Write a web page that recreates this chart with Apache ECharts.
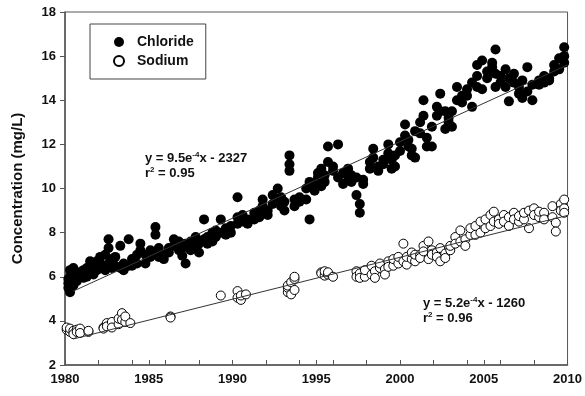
<!DOCTYPE html>
<html><head><meta charset="utf-8">
<script src="https://cdn.jsdelivr.net/npm/echarts@6/dist/echarts.min.js"></script>
<style>html,body{margin:0;padding:0;background:#fff}#c{width:585px;height:396px}</style>
</head><body><div id="c"></div>
<script>
// Chloride observations: [year, value]
const chloride = [
[1980.2,5.5],[1980.2,5.7],[1980.2,5.9],[1980.3,5.3],[1980.3,6.0],[1980.3,6.3],
[1980.5,5.6],[1980.5,6.4],[1980.5,6.1],[1980.5,5.8],[1980.7,6.0],[1980.7,5.8],
[1980.9,6.2],[1980.9,6.0],[1981.1,6.3],[1981.1,6.1],[1981.1,5.95],[1981.3,6.0],[1981.3,6.4],
[1981.5,6.2],[1981.5,6.7],[1981.7,6.1],[1981.7,6.5],[1981.9,6.3],[1981.9,6.7],
[1982.1,6.6],[1982.1,6.9],[1982.1,6.4],[1982.4,6.5],[1982.4,7.0],[1982.4,6.3],
[1982.6,7.7],[1982.6,7.3],[1982.6,6.6],[1982.8,6.4],[1982.8,6.8],[1983.0,6.5],[1983.0,6.9],
[1983.3,7.4],[1983.3,6.4],[1983.5,6.3],[1983.5,6.6],[1983.8,7.7],[1983.8,6.5],
[1984.0,6.8],[1984.0,6.5],[1984.3,7.0],[1984.3,6.6],[1984.5,7.5],[1984.5,7.2],
[1984.8,6.6],[1984.8,7.0],[1985.1,6.9],[1985.1,7.2],[1985.4,8.25],[1985.4,7.9],[1985.4,7.1],
[1985.6,7.3],[1985.6,6.9],[1985.9,7.0],[1985.9,6.8],[1986.2,7.1],[1986.2,7.3],
[1986.5,7.7],[1986.5,7.4],[1986.8,7.6],[1986.8,7.2],[1987.0,7.3],[1987.0,6.95],
[1987.2,6.6],[1987.2,7.5],[1987.5,7.6],[1987.5,7.2],[1987.8,7.8],[1987.8,7.4],
[1988.0,7.5],[1988.0,7.1],[1988.3,8.6],[1988.3,7.7],[1988.5,7.8],[1988.5,7.5],
[1988.8,8.0],[1988.8,7.6],[1989.0,8.1],[1989.0,7.8],[1989.3,8.6],[1989.3,8.0],
[1989.6,8.2],[1989.6,7.9],[1989.9,8.3],[1989.9,8.0],[1990.3,9.6],[1990.3,8.7],[1990.3,8.4],
[1990.6,8.5],[1990.6,8.8],[1990.9,8.4],[1990.9,8.6],[1991.3,8.9],[1991.3,8.6],
[1991.6,9.0],[1991.6,8.7],[1991.8,9.5],[1991.8,9.2],[1992.1,9.0],[1992.1,8.8],
[1992.4,9.7],[1992.4,9.3],[1992.7,10.0],[1992.7,9.5],[1992.9,9.2],[1992.9,9.6],
[1993.1,9.4],[1993.1,9.0],[1993.4,11.5],[1993.4,11.1],[1993.4,10.8],[1993.7,9.5],[1993.7,9.2],
[1994.0,9.4],[1994.0,9.6],[1994.4,9.5],[1994.4,10.0],[1994.6,8.6],[1994.6,10.3],
[1994.9,10.2],[1994.9,9.9],[1995.1,10.5],[1995.1,10.7],[1995.3,10.1],[1995.3,10.9],
[1995.5,10.3],[1995.5,10.6],[1995.7,11.9],[1995.7,11.2],[1996.0,11.0],[1996.0,10.8],
[1996.3,12.0],[1996.3,10.5],[1996.6,10.2],[1996.6,10.7],[1996.9,10.4],[1996.9,10.9],
[1997.1,10.6],[1997.1,10.3],[1997.4,10.5],[1997.4,9.7],[1997.6,9.3],[1997.6,8.9],
[1997.8,10.2],[1997.8,10.4],[1998.2,10.9],[1998.2,11.2],[1998.4,11.8],[1998.4,11.4],
[1998.7,11.0],[1998.7,10.8],[1999.0,11.3],[1999.0,11.1],[1999.3,11.6],[1999.3,12.0],
[1999.5,11.3],[1999.5,10.9],[1999.7,11.0],[1999.7,11.5],[2000.0,11.7],[2000.0,12.1],
[2000.3,12.9],[2000.3,12.4],[2000.5,12.2],[2000.5,11.9],[2000.7,11.5],[2000.7,11.8],
[2000.9,12.6],[2000.9,11.4],[2001.2,13.0],[2001.2,12.5],[2001.4,14.0],[2001.4,13.3],
[2001.6,11.9],[2001.6,12.3],[2001.9,11.9],[2001.9,12.8],[2002.2,13.3],[2002.2,13.7],
[2002.4,14.3],[2002.4,13.5],[2002.7,12.7],[2002.7,13.5],[2002.9,13.2],[2002.9,13.0],
[2003.1,12.8],[2003.1,13.5],[2003.4,14.6],[2003.4,14.0],[2003.7,14.2],[2003.7,13.9],
[2004.0,14.5],[2004.0,14.2],[2004.3,13.7],[2004.3,14.8],[2004.6,15.6],[2004.6,15.1],[2004.6,14.6],
[2004.9,15.8],[2004.9,14.5],[2005.2,15.3],[2005.2,15.0],[2005.5,15.5],[2005.5,15.7],
[2005.7,16.3],[2005.7,14.6],[2005.7,15.2],[2006.0,15.1],[2006.0,14.8],[2006.3,15.4],[2006.3,14.6],
[2006.5,13.95],[2006.5,15.0],[2006.8,14.8],[2006.8,15.2],[2007.1,14.6],[2007.1,14.3],
[2007.3,14.1],[2007.3,14.9],[2007.6,15.5],[2007.6,14.4],[2007.9,14.0],[2007.9,14.7],
[2008.3,14.9],[2008.3,14.7],[2008.6,15.1],[2008.6,14.8],[2008.9,14.9],[2008.9,15.0],
[2009.2,15.3],[2009.2,15.6],[2009.5,15.9],[2009.5,15.4],[2009.8,16.4],[2009.8,16.0],[2009.8,15.7]
];
// Sodium observations: [year, value]
const sodium = [
[1980.1,3.6],[1980.1,3.7],[1980.3,3.5],[1980.3,3.65],[1980.5,3.55],[1980.5,3.4],
[1980.7,3.6],[1980.7,3.5],[1980.9,3.65],[1980.9,3.45],[1981.4,3.5],[1981.4,3.55],
[1982.3,3.7],[1982.3,3.65],[1982.5,3.9],[1982.5,3.75],[1982.8,3.95],[1982.8,3.7],
[1983.2,3.85],[1983.2,4.1],[1983.4,4.35],[1983.4,4.05],[1983.6,3.95],[1983.6,4.2],[1983.9,3.9],
[1986.3,4.2],[1986.3,4.15],[1989.3,5.15],[1990.3,5.35],[1990.3,5.05],[1990.5,4.95],[1990.5,5.15],[1990.8,5.2],
[1993.3,5.3],[1993.3,5.5],[1993.3,5.6],[1993.5,5.75],[1993.5,5.2],[1993.7,5.9],[1993.7,6.0],[1993.7,5.4],
[1995.3,6.2],[1995.3,6.15],[1995.5,6.05],[1995.5,6.25],[1995.7,6.1],[1995.7,6.2],[1996.0,6.0],
[1997.4,6.25],[1997.4,6.0],[1997.6,6.15],[1997.6,5.95],[1997.9,6.0],[1997.9,6.3],
[1998.3,6.5],[1998.3,6.1],[1998.5,6.25],[1998.5,5.95],[1998.8,6.4],[1998.8,6.6],
[1999.1,6.35],[1999.1,6.1],[1999.3,6.7],[1999.3,6.45],[1999.6,6.5],[1999.6,6.8],
[1999.9,6.6],[1999.9,6.9],[2000.2,7.5],[2000.2,6.7],[2000.4,6.55],[2000.4,6.9],
[2000.7,6.8],[2000.7,7.1],[2000.9,6.7],[2000.9,7.0],[2001.2,7.0],[2001.2,6.85],
[2001.4,7.4],[2001.4,7.15],[2001.7,7.6],[2001.7,6.8],[2001.9,7.2],[2001.9,7.0],
[2002.2,7.1],[2002.2,6.9],[2002.4,7.3],[2002.4,6.7],[2002.7,7.05],[2002.7,6.85],
[2003.0,7.2],[2003.0,7.4],[2003.3,7.8],[2003.3,7.5],[2003.6,8.1],[2003.6,7.6],
[2003.9,7.7],[2003.9,7.4],[2004.2,7.9],[2004.2,8.2],[2004.5,8.3],[2004.5,7.9],
[2004.8,8.5],[2004.8,8.0],[2005.1,8.2],[2005.1,8.6],[2005.4,8.8],[2005.4,8.3],
[2005.6,8.95],[2005.6,8.5],[2005.9,8.6],[2005.9,8.4],[2006.2,8.8],[2006.2,8.5],
[2006.5,8.7],[2006.5,8.3],[2006.8,8.9],[2006.8,8.6],[2007.1,8.5],[2007.1,8.75],
[2007.4,8.6],[2007.4,8.9],[2007.7,8.2],[2007.7,9.0],[2008.0,9.1],[2008.0,8.8],
[2008.3,8.7],[2008.3,8.95],[2008.6,8.9],[2008.6,8.6],[2009.1,9.2],[2009.1,8.7],
[2009.3,8.45],[2009.3,8.05],[2009.6,9.3],[2009.6,9.0],[2009.8,9.5],[2009.8,9.1],[2009.8,8.9]
];
// Regression line endpoints
const chlorideFit = [[1980.5,5.35],[2010,15.6]];
const sodiumFit = [[1980.5,3.18],[2010,8.78]];
const eqChloride = ['y = 9.5e', '-4', 'x - 2327', 'r', '2', ' = 0.95'];
const eqSodium = ['y = 5.2e', '-4', 'x - 1260', 'r', '2', ' = 0.96'];
const yTitle = 'Concentration (mg/L)';

const FONT = '"Liberation Sans", Arial, sans-serif';
const AX = '#555';
function eqText(p){
  return '{a|'+p[0]+'}{s|'+p[1]+'}{a|'+p[2]+'}\n{a|'+p[3]+'}{s|'+p[4]+'}{a|'+p[5]+'}';
}
const rich = {
  a:{fontFamily:FONT,fontWeight:'bold',fontSize:13,lineHeight:15,fill:'#111'},
  s:{fontFamily:FONT,fontWeight:'bold',fontSize:8,lineHeight:15,verticalAlign:'top',fill:'#111'}
};
const chart = echarts.init(document.getElementById('c'));
chart.setOption({
  animation:false,
  backgroundColor:'#fff',
  grid:{left:65,right:11,top:12,bottom:31,show:true,borderColor:AX,borderWidth:1},
  legend:{
    left:90, top:24, orient:'vertical',
    padding:[11,12,11,23], itemGap:5, itemWidth:10, itemHeight:10,
    borderColor:'#444', borderWidth:1,
    textStyle:{fontFamily:FONT,fontWeight:'bold',fontSize:14,color:'#111',padding:[0,0,0,8]},
    data:[{name:'Chloride',icon:'circle'},{name:'Sodium',icon:'circle'}]
  },
  xAxis:[{
    type:'value', min:1980, max:2010, interval:5,
    axisLine:{lineStyle:{color:AX,width:1.5}},
    axisTick:{inside:true,length:5,lineStyle:{color:AX}},
    splitLine:{show:false},
    axisLabel:{fontFamily:FONT,fontWeight:'bold',fontSize:13,color:'#111',margin:8,formatter:v=>String(v)}
  },{
    type:'value', min:1980, max:2010, interval:2, position:'bottom',
    axisLine:{show:false},
    axisTick:{inside:true,length:5,lineStyle:{color:AX}},
    axisLabel:{show:false}, splitLine:{show:false}
  }],
  yAxis:{
    type:'value', min:2, max:18, interval:2,
    name:yTitle, nameLocation:'middle', nameGap:40, nameRotate:90,
    nameTextStyle:{fontFamily:FONT,fontWeight:'bold',fontSize:15,color:'#111'},
    axisLine:{lineStyle:{color:AX,width:1.5}},
    axisTick:{inside:false,length:5,lineStyle:{color:AX}},
    splitLine:{show:false},
    axisLabel:{fontFamily:FONT,fontWeight:'bold',fontSize:13,color:'#111',margin:9}
  },
  series:[
    {name:'Chloride',type:'scatter',data:chloride,symbol:'circle',symbolSize:10,
     itemStyle:{color:'#000',borderColor:'#000',borderWidth:0,opacity:1},z:3},
    {name:'Sodium',type:'scatter',data:sodium,symbol:'circle',symbolSize:9,
     itemStyle:{color:'#fff',borderColor:'#000',borderWidth:1,opacity:1},z:3},
    {type:'line',data:chlorideFit,symbol:'none',lineStyle:{color:'#333',width:1},z:4,silent:true},
    {type:'line',data:sodiumFit,symbol:'none',lineStyle:{color:'#333',width:1},z:4,silent:true}
  ],
  graphic:[
    {type:'text',left:145,top:151,style:{text:eqText(eqChloride),rich:rich}},
    {type:'text',left:423,top:296,style:{text:eqText(eqSodium),rich:rich}}
  ]
});
</script></body></html>
